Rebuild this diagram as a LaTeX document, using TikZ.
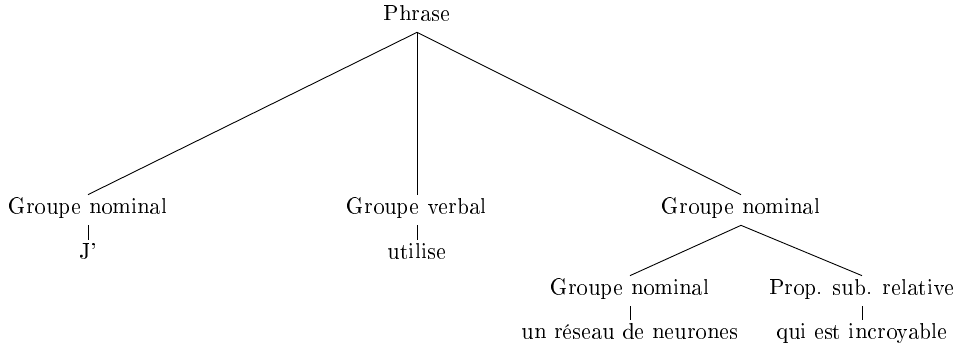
\documentclass[tikz,border=0pt]{standalone}
\usepackage[T1]{fontenc}
\usetikzlibrary{positioning}

\begin{document}
\begin{tikzpicture}[x=0.01572cm, y=-0.01572cm, every node/.style={inner sep=1.5pt,text height=1.6ex,text depth=0.8ex}]
        \useasboundingbox (0,0) rectangle (955,353);
        \node (phrase) at (417,17) {Phrase};
        \node (gn1) at (88,210) {Groupe nominal};
        \node (gv) at (417,210) {Groupe verbal};
        \node (gn2) at (741,210) {Groupe nominal};
        \node (je) at (88,255) {J'};
        \node (utilise) at (417,255) {utilise};
        \node (gn3) at (630,291) {Groupe nominal};
        \node (psr) at (862,291) {Prop. sub. relative};
        \node (reseau) at (630,335) {un réseau de neurones};
        \node (incroyable) at (862,335) {qui est incroyable};
        \draw (phrase.south) -- (gn1.north);
        \draw (phrase.south) -- (gv.north);
        \draw (phrase.south) -- (gn2.north);
        \draw (gn1.south) -- (je.north);
        \draw (gv.south) -- (utilise.north);
        \draw (gn2.south) -- (gn3.north);
        \draw (gn2.south) -- (psr.north);
        \draw (gn3.south) -- (reseau.north);
        \draw (psr.south) -- (incroyable.north);
    \end{tikzpicture}
\end{document}
